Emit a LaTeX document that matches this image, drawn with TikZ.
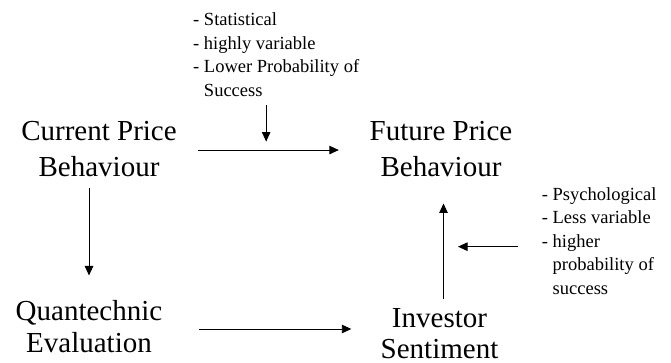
\documentclass[tikz,border=0pt]{standalone}
\usepackage{fontspec}
\setmainfont{Liberation Serif}
\usetikzlibrary{arrows.meta}

\tikzset{
  bigtext/.style={inner sep=0pt, align=center, anchor=base, font=\fontsize{29}{36}\selectfont},
  smalltext/.style={inner sep=0pt, align=left, anchor=base west, font=\fontsize{18.5}{23.5}\selectfont},
  arr/.style={-{Triangle[length=9.5pt,width=8.5pt]}, line width=0.9pt},
}

\begin{document}
\begin{tikzpicture}[x=1pt, y=-1pt]
\useasboundingbox (0,0) rectangle (671,362);

\node[bigtext] (cur) at (99,176) {Current Price\\Behaviour};
\node[bigtext] (fut) at (441,176) {Future Price\\Behaviour};
\node[bigtext, font=\fontsize{29}{32}\selectfont] (quant) at (89,352) {Quantechnic\\Evaluation};
\node[bigtext, font=\fontsize{29}{31}\selectfont] (inv) at (439.5,358) {Investor\\Sentiment};

\node[smalltext] (stat) at (193,96) {- Statistical\\- highly variable\\- Lower Probability of\\\hphantom{- }Success};
\node[smalltext] (psych) at (541.7,294) {- Psychological\\- Less variable\\- higher\\\hphantom{- }probability of\\\hphantom{- }success};

\draw[arr, shorten <=21.3pt, shorten >=30.7pt] ([yshift=-1.5pt]cur.east) -- ([yshift=-1.5pt]cur.east -| fut.west);
\draw[arr, shorten <=12pt, shorten >=24.2pt] (cur.south -| quant.north) -- (quant.north);
\draw[arr, shorten <=36.7pt, shorten >=29.2pt] ([yshift=-2.9pt]quant.east) -- ([yshift=-2.9pt]quant.east -| inv.west);
\draw[arr, shorten <=9.2pt, shorten >=27pt] ([xshift=4pt]inv.north) -- ([xshift=4pt]inv.north |- fut.south);

% remarks on the two routes
\draw[arr, shorten <=9pt, shorten >=7pt] ([xshift=-10pt]stat.south) -- ([xshift=-10pt]stat.south |- cur.east);
\draw[arr, shorten <=23.7pt, shorten >=17pt] ([yshift=-6pt]psych.west) -- ([yshift=-6pt]psych.west -| fut.south);

\end{tikzpicture}
\end{document}
